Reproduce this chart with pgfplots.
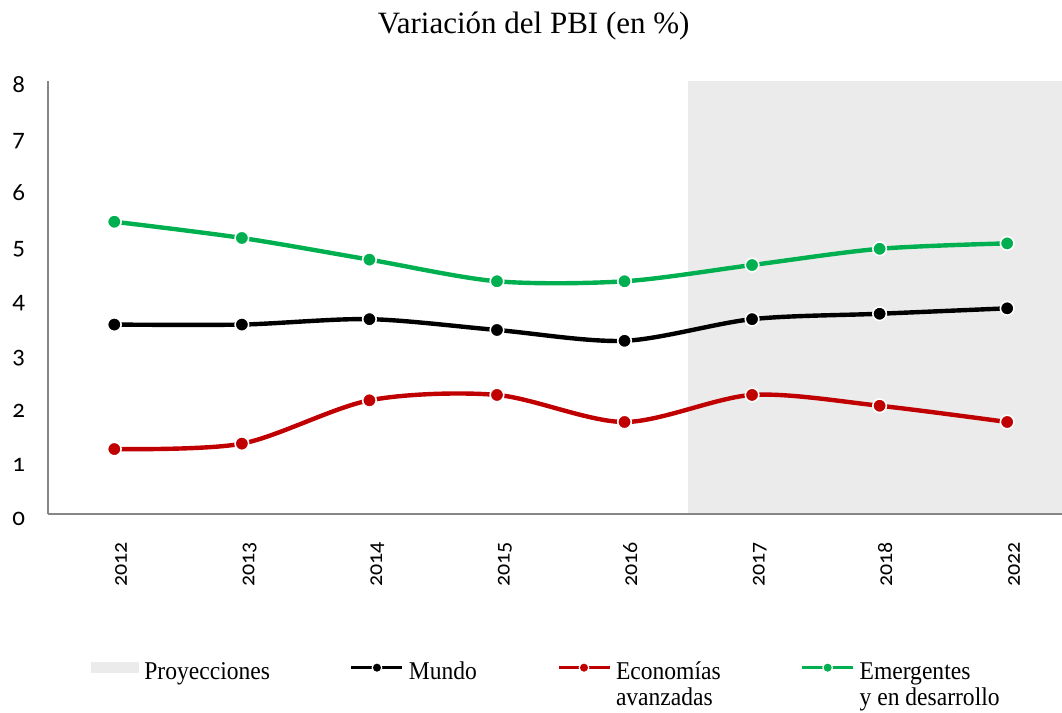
\documentclass[border=0pt]{standalone}
\usepackage{fontspec}
\setmainfont{Liberation Serif}
\newfontfamily\legfont[FakeStretch=0.92]{Liberation Serif}
\newfontfamily\tickfont[Numbers=OldStyle]{Carlito}
\usepackage{pgfplots}
\pgfplotsset{compat=1.18}
\usepackage{pgfplotstable}
\definecolor{projgray}{RGB}{235,235,235}
\definecolor{axgray}{RGB}{134,134,134}
\definecolor{cgreen}{RGB}{0,176,80}
\definecolor{cred}{RGB}{192,0,0}

\pgfplotstableread{
x y
0 3.5
1 3.5
2 3.6
3 3.4
4 3.2
5 3.6
6 3.7
7 3.8
}\mundo
\pgfplotstableread{
x y
0 1.2
1 1.3
2 2.1
3 2.2
4 1.7
5 2.2
6 2.0
7 1.7
}\avanz
\pgfplotstableread{
x y
0 5.4
1 5.1
2 4.7
3 4.3
4 4.3
5 4.6
6 4.9
7 5.0
}\emerg

\begin{document}
\begin{tikzpicture}
\path[use as bounding box] (-24pt,-99.5pt) rectangle (507pt,257pt);
\begin{axis}[
  at={(0,0)}, anchor=south west,
  scale only axis, width=507pt, height=216.5pt,
  xmin=-0.52, xmax=7.43, ymin=0, ymax=8,
  axis x line*=bottom, axis y line*=left,
  axis line style={draw=axgray, line width=0.75pt, -},
  axis on top,
  xtick={0,...,7},
  xticklabels={2012,2013,2014,2015,2016,2017,2018,2022},
  ytick={0,...,8},
  major tick length=0pt,
  /pgf/number format/assume math mode=true,
  xticklabel style={font=\tickfont\fontsize{11}{13}\selectfont, xshift=6.3pt, yshift=-13.9pt, rotate=90, anchor=base east, inner sep=0pt},
  yticklabel style={font=\tickfont\fontsize{12.5}{14}\selectfont, anchor=base east, inner sep=0pt, xshift=-11.3pt, yshift=-5.7pt},
  title={Variación del PBI (en \%)},
  title style={at={(0.479,1)}, anchor=base, yshift=18pt, inner sep=0pt, font=\fontsize{15.5}{18}\selectfont},
  legend columns=4,
  legend style={at={(0.0424,-0.3395)}, anchor=north west, draw=none, fill=none, inner sep=0pt,
    font=\legfont\fontsize{12.8}{14.5}\selectfont\renewcommand{\arraystretch}{0.9},
    nodes={inner sep=0pt, text depth=0pt, anchor=base west},
    cells={anchor=base west},
    /tikz/every odd column/.append style={column sep=2.5pt},
    /tikz/every even column/.append style={column sep=40pt}},
]
\addplot[fill=projgray, draw=none,
  legend image code/.code={\fill[projgray] (0pt,3.25pt) rectangle (24pt,8.75pt);}]
  coordinates {(4.5,0) (4.5,8) (7.6,8) (7.6,0)} -- cycle;
\addlegendentry{Proyecciones}
\addplot[black, line width=2.2pt, smooth, mark=*, mark size=3.4pt,
  mark options={fill=black, draw=white, line width=0.8pt},
  legend image code/.code={\draw[black, line width=1.5pt] (0pt,6pt)--(25.5pt,6pt);
    \filldraw[fill=black, draw=white, line width=0.6pt] (12.75pt,6pt) circle (2.4pt);}]
  table[x=x, y=y] {\mundo};
\addlegendentry{Mundo}
\addplot[cred, line width=2.2pt, smooth, mark=*, mark size=3.4pt,
  mark options={fill=cred, draw=white, line width=0.8pt},
  legend image code/.code={\draw[cred, line width=1.5pt] (0pt,6pt)--(25.5pt,6pt);
    \filldraw[fill=cred, draw=white, line width=0.6pt] (12.75pt,6pt) circle (2.4pt);}]
  table[x=x, y=y] {\avanz};
\addlegendentry{\begin{tabular}[t]{@{}l@{}}Economías\\avanzadas\end{tabular}}
\addplot[cgreen, line width=2.2pt, smooth, mark=*, mark size=3.4pt,
  mark options={fill=cgreen, draw=white, line width=0.8pt},
  legend image code/.code={\draw[cgreen, line width=1.5pt] (0pt,6pt)--(25.5pt,6pt);
    \filldraw[fill=cgreen, draw=white, line width=0.6pt] (12.75pt,6pt) circle (2.4pt);}]
  table[x=x, y=y] {\emerg};
\addlegendentry{\begin{tabular}[t]{@{}l@{}}Emergentes\\y en desarrollo\end{tabular}}
\end{axis}
\end{tikzpicture}
\end{document}
